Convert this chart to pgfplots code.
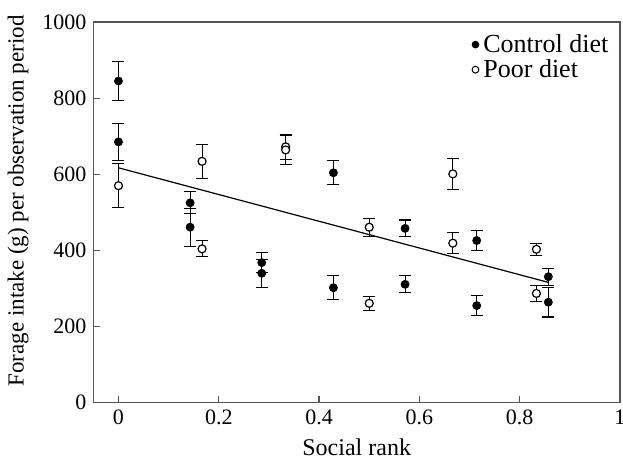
\documentclass[border=0pt]{standalone}
\usepackage{pgfplots}
\pgfplotsset{compat=1.18}
\usepackage{pgfplotstable}
\usepackage{fontspec}
\setmainfont{Liberation Serif}
\definecolor{axgray}{RGB}{85,85,85}

\pgfplotstableread{
x y e
0 845 51
0 685 49
0.142857 525 29
0.142857 461 50
0.285714 368 26
0.285714 340 37
0.428571 604 32
0.428571 302 32
0.571429 458 22
0.571429 311 22
0.714286 426 27
0.714286 255 26
0.857143 331 22
0.857143 264 39
}\control

\pgfplotstableread{
x y e
0 570 58
0.166667 634 44
0.166667 404 21
0.333333 672 33
0.333333 664 38
0.5 461 24
0.5 261 19
0.666667 601 41
0.666667 419 28
0.833333 403 16
0.833333 287 21
}\poor

\begin{document}
\begin{tikzpicture}
\begin{axis}[
  name=ax,
  scale only axis,
  width=263.3pt, height=190.35pt,
  xmin=-0.05, xmax=1,
  ymin=0, ymax=1000,
  xtick={0,0.2,0.4,0.6,0.8,1},
  ytick={0,200,400,600,800,1000},
  xticklabels={0,0.2,0.4,0.6,0.8,1},
  tick align=inside,
  xtick pos=bottom, ytick pos=left,
  major tick length=3.5pt,
  tick style={axgray, line width=0.6pt},
  axis line style={axgray, line width=0.75pt},
  /pgf/number format/assume math mode=true,
  /pgf/number format/1000 sep={},
  tick label style={font=\fontsize{11}{12}\selectfont},
  label style={font=\fontsize{12}{13}\selectfont},
  xlabel={Social rank},
  ylabel={Forage intake (g) per observation period},
  ylabel style={at={(ticklabel cs:0.53)}, font=\fontsize{11.5}{12}\selectfont},
  legend style={draw=none, fill=none, at={(rel axis cs:0.99,0.985)}, anchor=north east,
    font=\fontsize{13}{13}\selectfont, row sep=-2pt, inner sep=1pt,
    legend cell align=left},
]
\addplot[only marks, mark=*, mark size=2pt, mark options={fill=black, draw=black},
  legend image code/.code={\draw[fill=black] (0.12cm,0pt) circle (1.7pt);},
  error bars/.cd, y dir=both, y explicit,
  error bar style={black, line width=0.55pt},
  error mark options={rotate=90, mark size=3pt, line width=0.55pt, black}]
  table[x=x, y=y, y error=e] {\control};
\addlegendentry{Control diet}
\addplot[only marks, mark=*, mark size=2pt, mark options={fill=white, draw=black, line width=0.6pt},
  legend image code/.code={\draw[fill=white, line width=0.5pt] (0.12cm,0pt) circle (1.7pt);},
  error bars/.cd, y dir=both, y explicit,
  error bar style={black, line width=0.55pt},
  error mark options={rotate=90, mark size=3pt, line width=0.55pt, black}]
  table[x=x, y=y, y error=e] {\poor};
\addlegendentry{Poor diet}
\addplot[black, line width=0.6pt, no marks, forget plot] coordinates {(0,617) (0.857143,316)};
\end{axis}
\pgfresetboundingbox
\path[use as bounding box] ([xshift=-46.7pt, yshift=-28.15pt]ax.south west) rectangle ([xshift=1.5pt, yshift=11pt]ax.north east);
\end{tikzpicture}
\end{document}
